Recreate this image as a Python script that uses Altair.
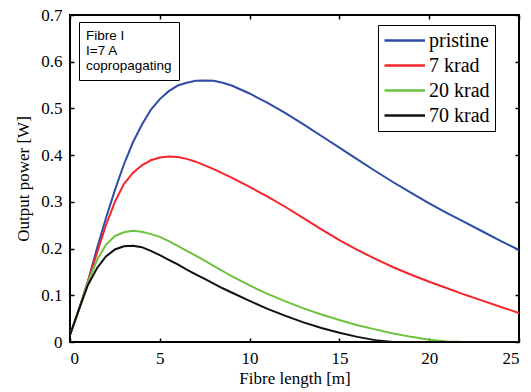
import altair as alt
import pandas as pd

length_m = [0, 0.5, 1, 1.5, 2, 2.5, 3, 3.5, 4, 4.5, 5, 5.5, 6, 6.5, 7, 7.5, 8, 8.5, 9,
            10, 11, 12, 13, 14, 15, 16, 17, 18, 19, 20, 21, 22, 23, 24, 25]

pristine = [0.015, 0.07, 0.13, 0.2, 0.265, 0.325, 0.38, 0.427, 0.465, 0.497, 0.52, 0.537,
            0.549, 0.555, 0.559, 0.56, 0.559, 0.555, 0.549, 0.532, 0.512, 0.49, 0.466,
            0.441, 0.416, 0.391, 0.366, 0.342, 0.319, 0.297, 0.276, 0.256, 0.236, 0.216, 0.197]
krad7 = [0.015, 0.07, 0.13, 0.19, 0.25, 0.3, 0.338, 0.362, 0.378, 0.389, 0.395, 0.397,
         0.396, 0.392, 0.386, 0.378, 0.37, 0.361, 0.352, 0.332, 0.311, 0.289, 0.265,
         0.241, 0.218, 0.197, 0.178, 0.16, 0.144, 0.129, 0.115, 0.101, 0.088, 0.075, 0.062]
krad20 = [0.015, 0.07, 0.128, 0.175, 0.208, 0.227, 0.235, 0.238, 0.236, 0.231, 0.225, 0.216,
          0.206, 0.195, 0.185, 0.174, 0.163, 0.152, 0.141, 0.121, 0.103, 0.087, 0.072,
          0.059, 0.047, 0.036, 0.027, 0.018, 0.011, 0.005, 0.001, 0, 0, 0, 0]
krad70 = [0.015, 0.07, 0.122, 0.158, 0.183, 0.198, 0.205, 0.206, 0.203, 0.195, 0.186, 0.176,
          0.166, 0.155, 0.145, 0.135, 0.125, 0.115, 0.106, 0.088, 0.071, 0.056, 0.042,
          0.03, 0.02, 0.011, 0.004, 0, 0, 0, 0, 0, 0, 0, 0]

series_names = ["pristine", "7 krad", "20 krad", "70 krad"]
series_colors = ["#2c4ca6", "#f2262b", "#6cc23f", "#111111"]
x_ticks = [0, 5, 10, 15, 20, 25]
y_ticks = [0, 0.1, 0.2, 0.3, 0.4, 0.5, 0.6, 0.7]
note_lines = ["Fibre I", "I=7 A", "copropagating"]

rows = []
for name, vals in zip(series_names, [pristine, krad7, krad20, krad70]):
    for xv, yv in zip(length_m, vals):
        rows.append({"length": xv, "power": yv, "series": name})
df = pd.DataFrame(rows)
notes = pd.DataFrame({"note": ["note"]})

xs = alt.Scale(domain=[0, 25], nice=False, zero=False)
ys = alt.Scale(domain=[0, 0.7], nice=False)

lines = alt.Chart(df).mark_line(strokeWidth=2, clip=True).encode(
    x=alt.X("length:Q", scale=xs, axis=alt.Axis(
        title="Fibre length [m]", values=x_ticks, ticks=False, domain=False, grid=False,
        labelPadding=8, titlePadding=4)),
    y=alt.Y("power:Q", scale=ys, axis=alt.Axis(
        title="Output power [W]", values=y_ticks, ticks=False, domain=False, grid=False,
        format=".1~f", labelPadding=8, titlePadding=8)),
    color=alt.Color("series:N", scale=alt.Scale(domain=series_names, range=series_colors),
                    legend=alt.Legend(title=None, orient="none", legendX=308, legendY=10,
                                      fillColor="white", strokeColor="black", padding=5,
                                      symbolType="M-1,0H3.5", symbolSize=324,
                                      symbolStrokeWidth=2.5, labelFont="Liberation Serif",
                                      labelFontSize=20, labelColor="black", rowPadding=4,
                                      labelOffset=25)),
    order=alt.Order("length:Q"),
)

def tick_layer(xo, yo):
    return alt.Chart(df).mark_point(opacity=0).encode(
        x=alt.X("length:Q", scale=xs, axis=alt.Axis(
            orient=xo, offset=-4, tickSize=4, tickWidth=1.5, tickColor="black",
            labels=False, domain=False, grid=False, title=None, values=x_ticks)),
        y=alt.Y("power:Q", scale=ys, axis=alt.Axis(
            orient=yo, offset=-4, tickSize=4, tickWidth=1.5, tickColor="black",
            labels=False, domain=False, grid=False, title=None, values=y_ticks)),
    )

note_layer = alt.Chart(notes).mark_point(opacity=0, size=0).encode(
    shape=alt.Shape("note:N",
                    legend=alt.Legend(title=note_lines, orient="none", legendX=9, legendY=7,
                                      fillColor="white", strokeColor="black", padding=7,
                                      titleFont="Liberation Sans", titleFontSize=13.5,
                                      titleFontWeight="normal", titleColor="black",
                                      titleLineHeight=15, titlePadding=0,
                                      symbolOpacity=0, symbolSize=0, symbolStrokeWidth=0,
                                      labelFontSize=1, labelExpr="''", labelOffset=0)),
)

chart = alt.layer(lines, tick_layer("bottom", "left"), tick_layer("top", "right"), note_layer).resolve_axis(
    x="independent", y="independent"
).properties(
    width=449, height=327,
    background="white",
    autosize=alt.AutoSizeParams(type="none"),
    padding={"left": 70, "top": 15, "right": 12, "bottom": 50},
).configure_view(stroke="black", strokeWidth=2).configure_axis(
    labelFont="Liberation Serif", labelFontSize=17, labelColor="black",
    titleFont="Liberation Serif", titleFontSize=17, titleFontWeight="normal", titleColor="black",
)

chart.save("out.html", embed_options={"renderer": "svg", "actions": False})
